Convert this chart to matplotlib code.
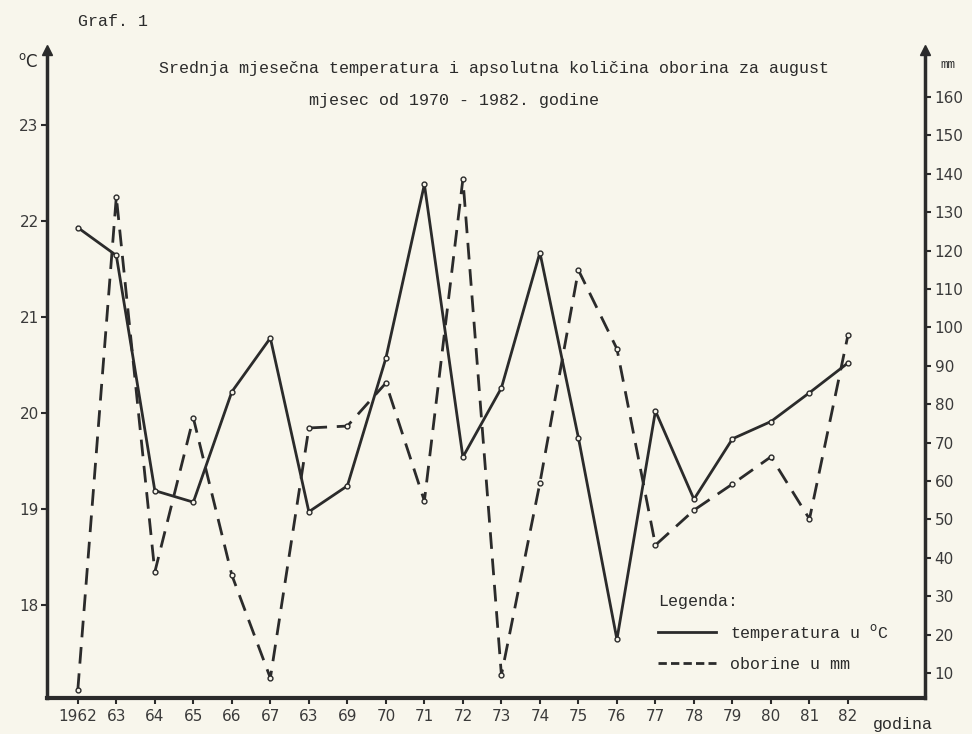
import matplotlib.pyplot as plt
from matplotlib.lines import Line2D

# podaci za august, 1962 - 1982
godine = list(range(1962, 1983))
oznake = ['1962', '63', '64', '65', '66', '67', '63', '69', '70', '71', '72',
          '73', '74', '75', '76', '77', '78', '79', '80', '81', '82']
temperatura = [21.93, 21.64, 19.19, 19.07, 20.22, 20.78, 18.97, 19.24, 20.57, 22.38, 19.54,
               20.26, 21.67, 19.74, 17.64, 20.02, 19.10, 19.73, 19.91, 20.21, 20.52]
oborine = [5.6, 134.0, 36.3, 76.4, 35.5, 8.7, 73.8, 74.3, 85.5, 54.8, 138.6,
           9.5, 59.5, 114.9, 94.4, 43.3, 52.4, 59.2, 66.3, 50.1, 98.0]

papir = '#f8f6ec'
tinta = '#2b2b2b'
mono = ['Liberation Mono', 'DejaVu Sans Mono']

fig = plt.figure(figsize=(9.72, 7.34), dpi=100, facecolor=papir)
ax = fig.add_axes([47 / 972, 1 - 698 / 734, (925 - 47) / 972, (698 - 50) / 734])
ax.set_facecolor(papir)
ax2 = ax.twinx()

ax.plot(godine, temperatura, '-', color=tinta, lw=2, marker='o', ms=3.5,
        mfc=papir, mec=tinta, mew=1, zorder=3)
ax2.plot(godine, oborine, color=tinta, lw=2, dashes=(6, 3.5), marker='o', ms=3.5,
         mfc=papir, mec=tinta, mew=1, zorder=3)

ax.set_xlim(1961.2, 1984.0)
ax.set_ylim(17.03, 23.78)
ax2.set_ylim(3.5, 172.2)

ax.set_xticks(godine)
ax.set_xticklabels(oznake)
ax.set_yticks([18, 19, 20, 21, 22, 23])
ax2.set_yticks(range(10, 170, 10))

for a in (ax, ax2):
    a.spines['top'].set_visible(False)
    for s in a.spines.values():
        s.set_color(tinta)
        s.set_linewidth(2.5)
    a.tick_params(colors=tinta, labelcolor='#3a3a3a', labelsize=11, length=4, width=1.5)
ax.spines['bottom'].set_linewidth(3)
ax.spines['right'].set_visible(False)
ax2.spines['left'].set_visible(False)
ax2.spines['bottom'].set_visible(False)
ax.tick_params(axis='x', pad=4)
ax.tick_params(axis='y', pad=2)
ax2.tick_params(axis='y', pad=3)

# strelice na vrhu osi
ax.plot([0, 1], [1.0, 1.0], '^', color=tinta, ms=7, transform=ax.transAxes, clip_on=False)

fig.text(78 / 972, 1 - 22 / 734, 'Graf. 1', family=mono, fontsize=12, color=tinta, va='center')
fig.text(494 / 972, 1 - 68 / 734,
         'Srednja mjesečna temperatura i apsolutna količina oborina za august',
         family=mono, fontsize=12, color=tinta, ha='center', va='center')
fig.text(454 / 972, 1 - 100 / 734, 'mjesec od 1970 - 1982. godine',
         family=mono, fontsize=12, color=tinta, ha='center', va='center')
fig.text(18 / 972, 1 - 62 / 734, '$^{\\mathrm{o}}$C', fontsize=12, color=tinta, va='center')
fig.text(940 / 972, 1 - 65 / 734, 'mm', family=mono, fontsize=9, color=tinta, va='center')
fig.text(873 / 972, 1 - 725 / 734, 'godina', family=mono, fontsize=12, color=tinta, va='center')

rucke = [Line2D([], [], color=tinta, lw=2),
         Line2D([], [], color=tinta, lw=2, dashes=(3, 1.5))]
leg = ax.legend(rucke, ['temperatura u $^{\\mathrm{o}}$C', 'oborine u mm'],
                title='Legenda:', alignment='left', frameon=False,
                loc='upper left', bbox_to_anchor=(658 / 972, 1 - 594 / 734),
                bbox_transform=fig.transFigure, prop={'family': mono, 'size': 12},
                handlelength=3.5, handletextpad=0.8, labelspacing=0.8, borderpad=0,
                borderaxespad=0)
leg.get_title().set_family(mono)
leg.get_title().set_fontsize(12)
for t in leg.get_texts():
    t.set_color(tinta)
leg.get_title().set_color(tinta)

fig.savefig('out.png', dpi=100, facecolor=papir)
